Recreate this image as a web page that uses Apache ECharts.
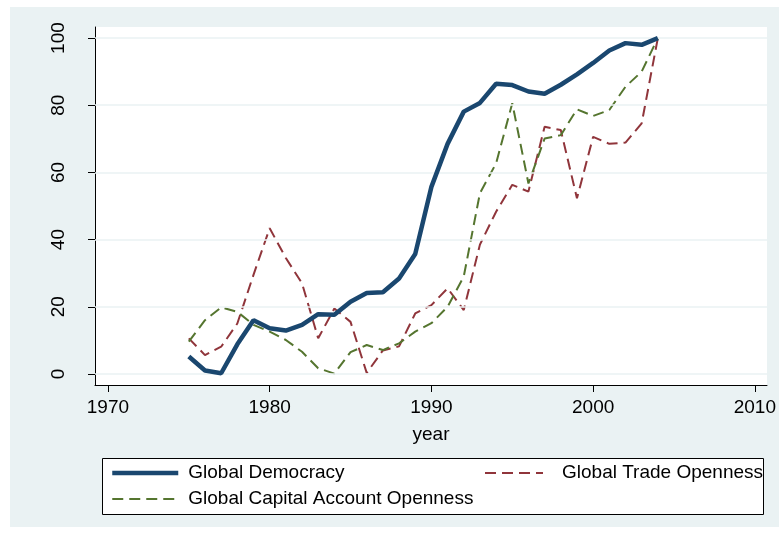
<!DOCTYPE html>
<html>
<head>
<meta charset="utf-8">
<script src="https://cdn.jsdelivr.net/npm/echarts@6/dist/echarts.min.js"></script>
<style>
html,body{margin:0;padding:0;background:#fff;}
#chart{width:779px;height:536px;}
</style>
</head>
<body>
<div id="chart"></div>
<script>
const years = [1975,1976,1977,1978,1979,1980,1981,1982,1983,1984,1985,1986,1987,1988,1989,1990,1991,1992,1993,1994,1995,1996,1997,1998,1999,2000,2001,2002,2003,2004];
const democracy = [5.2,1.0,0.2,8.8,16.0,13.6,12.9,14.6,17.8,17.6,21.5,24.1,24.3,28.4,35.7,55.7,68.5,78.1,80.7,86.4,86.0,84.1,83.4,86.1,89.2,92.6,96.3,98.5,98.0,100];
const trade = [10.6,5.6,8.1,15.0,29.5,43.4,34.5,27.0,10.6,19.5,15.5,0.3,7.0,8.2,18.0,20.5,25.5,19.0,38.5,48.3,56.3,54.3,73.6,72.6,52.3,70.6,68.5,68.9,74.6,100];
const capital = [9.6,16.0,19.8,18.5,14.6,12.6,10.1,6.6,1.7,0.1,6.5,8.6,7.1,9.1,12.6,15.1,20.0,29.0,53.8,62.7,80.6,56.7,70.1,71.1,78.8,76.8,78.6,85.5,90.0,100];
const xTicks = [1970,1980,1990,2000,2010];
const yTicks = [0,20,40,60,80,100];
const names = ['Global Democracy','Global Trade Openness','Global Capital Account Openness'];

const FONT = 'Liberation Sans, Arial, sans-serif';
const pair = (ys) => years.map((y,i)=>[y, ys[i]]);

const chart = echarts.init(document.getElementById('chart'), null, {renderer:'canvas'});
chart.setOption({
  backgroundColor:'#ffffff',
  animation:false,
  textStyle:{fontFamily:FONT},
  graphic:[
    {type:'rect', z:-10, silent:true, shape:{x:10,y:7,width:769,height:520}, style:{fill:'#eaf2f3'}},
    {type:'rect', z:3, silent:true, shape:{x:102.5,y:458.5,width:661,height:56}, style:{fill:'#ffffff', stroke:'#000000', lineWidth:1}}
  ],
  grid:{left:95, right:9, top:27, bottom:151, show:true, backgroundColor:'#ffffff', borderWidth:0},
  xAxis:{
    type:'value', min:1969.2, max:2010.75,
    name:'year', nameLocation:'middle', nameGap:40,
    nameTextStyle:{fontSize:19, color:'#000', fontFamily:FONT},
    axisLine:{show:true, onZero:false, lineStyle:{color:'#000', width:1}},
    axisTick:{show:true, length:7, customValues:xTicks, lineStyle:{color:'#000'}},
    axisLabel:{customValues:xTicks, fontSize:19, color:'#000', margin:13, fontFamily:FONT, formatter:(v)=>String(v)},
    splitLine:{show:false}
  },
  yAxis:{
    type:'value', min:-3.3, max:103.3,
    axisLine:{show:true, onZero:false, lineStyle:{color:'#000', width:1}},
    axisTick:{show:true, length:7, customValues:yTicks, lineStyle:{color:'#000'}},
    axisLabel:{customValues:yTicks, fontSize:19, color:'#000', rotate:90, margin:27, fontFamily:FONT, formatter:(v)=>String(v)},
    splitLine:{show:false}
  },
  legend:[
    {data:[names[0], names[2]], orient:'vertical', left:105, top:458, itemWidth:66, itemHeight:14, itemGap:6,
     itemStyle:{opacity:0}, lineStyle:{width:'inherit'},
     textStyle:{fontSize:19, color:'#000', lineHeight:20, padding:[0,0,0,5], fontFamily:FONT}},
    {data:[names[1]], orient:'vertical', left:479, top:458, itemWidth:58, itemHeight:14,
     itemStyle:{opacity:0}, lineStyle:{width:'inherit'},
     textStyle:{fontSize:19, color:'#000', lineHeight:20, padding:[0,0,0,14], fontFamily:FONT}}
  ],
  series:[
    {type:'line', name:'grid', data:[], z:1, silent:true,
     markLine:{silent:true, symbol:'none', label:{show:false}, animation:false,
       lineStyle:{color:'#eaf2f3', width:1.5, type:'solid'},
       data: yTicks.map(v=>({yAxis:v}))}},
    {type:'line', name:names[0], data:pair(democracy), symbol:'none', z:5,
     lineStyle:{color:'#1a476f', width:4.5}, itemStyle:{color:'#1a476f'}},
    {type:'line', name:names[1], data:pair(trade), symbol:'none', z:4,
     lineStyle:{color:'#90353b', width:2, type:[11,6]}, itemStyle:{color:'#90353b'}},
    {type:'line', name:names[2], data:pair(capital), symbol:'none', z:4,
     lineStyle:{color:'#55752f', width:2, type:[11,6]}, itemStyle:{color:'#55752f'}}
  ]
});
</script>
</body>
</html>
